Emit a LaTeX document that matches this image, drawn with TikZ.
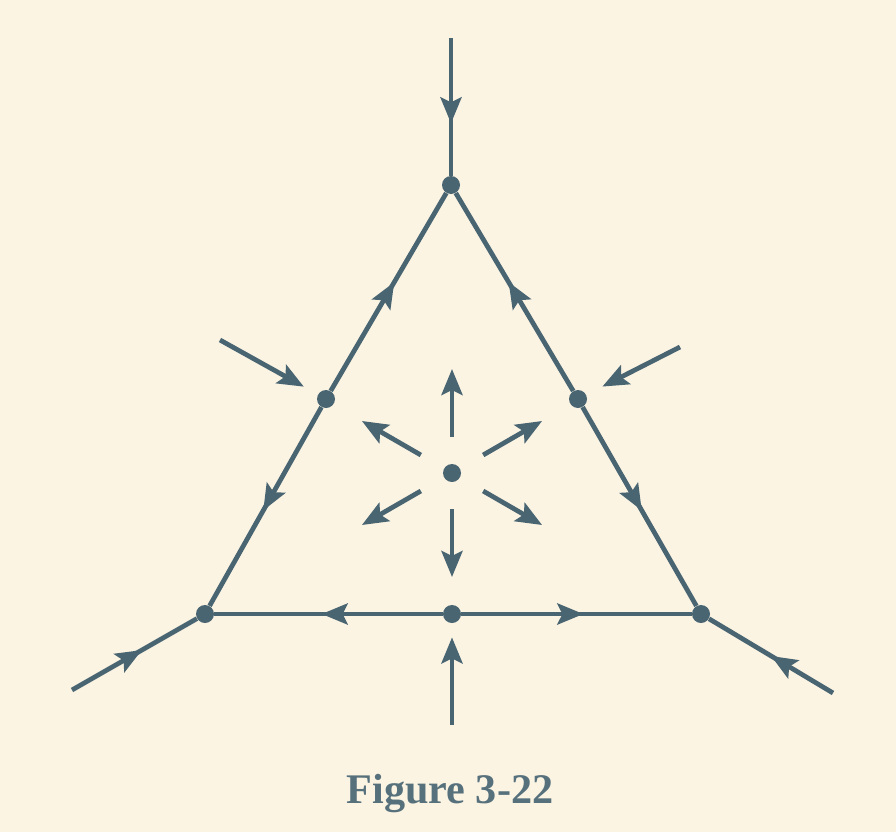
\documentclass[tikz,border=0pt]{standalone}
\usepackage{fontspec}
\setmainfont{Liberation Serif}
\usetikzlibrary{arrows.meta,decorations.markings,calc}
\definecolor{ink}{HTML}{4A6572}
\definecolor{bg}{HTML}{FBF4E3}
\definecolor{capcol}{HTML}{56707C}
\begin{document}
\begin{tikzpicture}[x=0.02cm,y=-0.02cm,color=ink,
  dot/.style={circle,fill=ink,inner sep=0pt,minimum size=0.36cm},
  edge/.style={draw=ink,line width=2.7pt},
  tip/.style={-{Stealth[length=0.52cm,width=0.42cm,inset=0.1cm]}},
  midarrow/.style={postaction={decorate},decoration={markings,mark=at position #1 with {\arrow{Stealth[length=0.52cm,width=0.42cm,inset=0.1cm]}}}}
]
\fill[bg] (0,0) rectangle (896,832);
\useasboundingbox (0,0) rectangle (896,832);

% vertices and midpoints
\node[dot] (top) at (451,185) {};
\node[dot] (bl) at (205,614) {};
\node[dot] (br) at (701,614) {};
\node[dot] (lm) at (326,399) {};
\node[dot] (rm) at (578,399) {};
\node[dot] (bm) at (452,614) {};
\node[dot] (c) at (452,473) {};

% outer free ends
\coordinate (tstart) at (451,38);
\coordinate (blstart) at (72,690);
\coordinate (brstart) at (833,693);
\coordinate (lstart) at (220,340);
\coordinate (rstart) at (680,347);
\coordinate (bstart) at (452,725);

% triangle edges, flowing from midpoints to vertices
\draw[edge,midarrow=0.55] (lm) -- (top);
\draw[edge,midarrow=0.52] (lm) -- (bl);
\draw[edge,midarrow=0.55] (rm) -- (top);
\draw[edge,midarrow=0.52] (rm) -- (br);
\draw[edge,midarrow=0.53] (bm) -- (bl);
\draw[edge,midarrow=0.53] (bm) -- (br);

% incoming lines to vertices
\draw[edge,midarrow=0.62] (tstart) -- (top);
\draw[edge,midarrow=0.56] (blstart) -- (bl);
\draw[edge,midarrow=0.5] (brstart) -- (br);

% incoming arrows to midpoints
\draw[edge,tip,shorten >=0.32cm] (lstart) -- (lm);
\draw[edge,tip,shorten >=0.36cm] (rstart) -- (rm);
\draw[edge,tip,shorten >=0.28cm] (bstart) -- (bm);

% outgoing rays from centre
\foreach \a in {30,90,150,210,270,330}{
  \coordinate (ra\a) at ($(c)+(\a:36)$);
  \coordinate (rb\a) at ($(c)+(\a:104)$);
  \draw[edge,tip] (ra\a) -- (rb\a);
}

\node[text=capcol,font=\bfseries\fontsize{24}{28}\selectfont,anchor=base] (caption) at (450,803) {Figure 3-22};
\end{tikzpicture}
\end{document}
